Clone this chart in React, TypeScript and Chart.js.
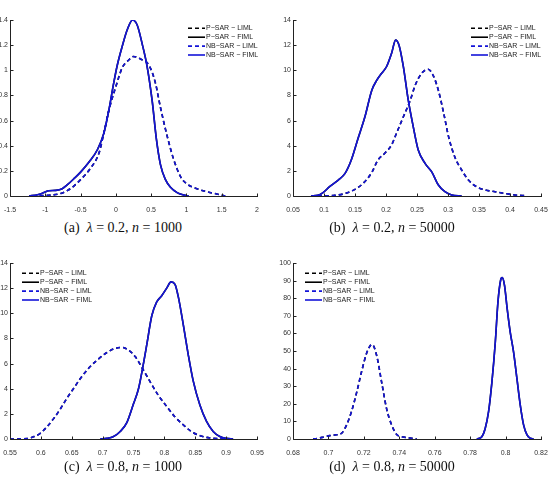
import React, { useEffect, useRef } from "react";
import { Chart, registerables } from "chart.js";

Chart.register(...registerables);

// ---------- Panel (a): lambda = 0.2, n = 1000 ----------
const aLimlX = [-1.18, -0.97, -0.78, -0.64, -0.5, -0.36, -0.24, -0.17, -0.1, 0, 0.09, 0.18, 0.25, 0.35, 0.47, 0.56, 0.63, 0.73, 0.82, 0.92, 1.01, 1.15, 1.29, 1.43, 1.55];
const aLimlY = [0, 0.005, 0.02, 0.06, 0.13, 0.22, 0.34, 0.5, 0.68, 0.87, 1.02, 1.08, 1.11, 1.09, 1.04, 0.9, 0.71, 0.47, 0.29, 0.15, 0.095, 0.058, 0.034, 0.016, 0];
const aFimlX = [-1.23, -1.11, -1.02, -0.95, -0.85, -0.76, -0.69, -0.59, -0.5, -0.38, -0.26, -0.17, -0.1, -0.03, 0.02, 0.09, 0.16, 0.236, 0.302, 0.373, 0.443, 0.514, 0.575, 0.632, 0.703, 0.774, 0.868, 0.962, 1.033];
const aFimlY = [0, 0.01, 0.027, 0.042, 0.045, 0.058, 0.088, 0.14, 0.19, 0.27, 0.37, 0.5, 0.68, 0.9, 1.04, 1.19, 1.32, 1.4, 1.36, 1.21, 1.03, 0.76, 0.45, 0.25, 0.13, 0.069, 0.027, 0.008, 0];
const aXTicks = [-1.5, -1, -0.5, 0, 0.5, 1, 1.5, 2];
const aYTicks = [0, 0.2, 0.4, 0.6, 0.8, 1, 1.2, 1.4];

// ---------- Panel (b): lambda = 0.2, n = 50000 ----------
const bLimlX = [0.09, 0.117, 0.134, 0.15, 0.163, 0.177, 0.187, 0.198, 0.209, 0.217, 0.228, 0.239, 0.247, 0.2575, 0.268, 0.276, 0.2845, 0.293, 0.301, 0.311, 0.322, 0.333, 0.346, 0.36, 0.376, 0.392, 0.408, 0.425];
const bLimlY = [0, 0.05, 0.2, 0.53, 1.0, 1.86, 2.86, 3.4, 4.06, 5.0, 6.3, 7.6, 8.8, 9.76, 10.08, 9.6, 8.4, 6.6, 4.7, 3.1, 2.07, 1.27, 0.74, 0.48, 0.34, 0.2, 0.08, 0.03];
const bFimlX = [0.079, 0.09, 0.0985, 0.109, 0.123, 0.134, 0.144, 0.155, 0.166, 0.177, 0.185, 0.193, 0.201, 0.209, 0.2155, 0.221, 0.228, 0.236, 0.244, 0.252, 0.263, 0.274, 0.2845, 0.295, 0.306, 0.322];
const bFimlY = [0, 0.05, 0.27, 0.74, 1.27, 1.8, 2.86, 4.59, 6.3, 8.4, 9.2, 9.76, 10.3, 11.35, 12.4, 12.0, 10.3, 7.6, 5.5, 3.66, 2.6, 1.9, 0.87, 0.34, 0.08, 0];
const bXTicks = [0.05, 0.1, 0.15, 0.2, 0.25, 0.3, 0.35, 0.4, 0.45];
const bYTicks = [0, 2, 4, 6, 8, 10, 12, 14];

// ---------- Panel (c): lambda = 0.8, n = 1000 ----------
const cLimlX = [0.55, 0.578, 0.589, 0.599, 0.61, 0.621, 0.632, 0.642, 0.653, 0.664, 0.677, 0.691, 0.707, 0.72, 0.731, 0.742, 0.753, 0.763, 0.777, 0.79, 0.804, 0.817, 0.831, 0.844, 0.858, 0.874, 0.89, 0.9];
const cLimlY = [0, 0.03, 0.19, 0.45, 0.98, 1.64, 2.43, 3.23, 4.02, 4.82, 5.61, 6.27, 6.88, 7.2, 7.28, 7.07, 6.54, 5.74, 4.55, 3.49, 2.57, 1.77, 1.11, 0.58, 0.26, 0.08, 0.03, 0];
const cFimlX = [0.6962, 0.707, 0.7177, 0.7285, 0.7392, 0.75, 0.7581, 0.765, 0.7715, 0.7796, 0.7876, 0.7957, 0.8038, 0.8108, 0.8172, 0.8226, 0.8306, 0.8387, 0.8468, 0.8575, 0.8683, 0.879, 0.8898, 0.9005, 0.9113];
const cFimlY = [0, 0.05, 0.2, 0.6, 1.3, 2.8, 4.0, 5.7, 7.5, 9.8, 10.9, 11.4, 12.0, 12.5, 12.3, 11.3, 9.1, 6.7, 4.6, 2.7, 1.4, 0.6, 0.2, 0.05, 0];
const cXTicks = [0.55, 0.6, 0.65, 0.7, 0.75, 0.8, 0.85, 0.9, 0.95];
const cYTicks = [0, 2, 4, 6, 8, 10, 12, 14];

// ---------- Panel (d): lambda = 0.8, n = 50000 ----------
const dLimlX = [0.6913, 0.6942, 0.698, 0.7008, 0.7036, 0.7074, 0.7102, 0.713, 0.7158, 0.7187, 0.7215, 0.7234, 0.7247, 0.7272, 0.73, 0.7328, 0.7357, 0.7385, 0.7413, 0.7442, 0.7489, 0.7498];
const dLimlY = [0, 0.4, 1.3, 1.9, 2.3, 3.2, 7.9, 15.5, 25.9, 38.2, 48.6, 52.7, 53.7, 47.6, 32.5, 17.4, 7.9, 2.6, 1.3, 0.8, 0.2, 0];
const dFimlX = [0.7838, 0.7866, 0.7885, 0.7904, 0.7923, 0.7942, 0.7957, 0.7972, 0.7981, 0.7994, 0.8009, 0.8026, 0.8045, 0.8064, 0.8083, 0.8102, 0.8121, 0.814, 0.8158];
const dFimlY = [0, 1.3, 6, 15.5, 32.5, 55, 77.9, 90.2, 91.7, 87.3, 74.1, 60.9, 49.5, 34.4, 19.3, 7.9, 2.3, 0.4, 0];
const dXTicks = [0.68, 0.7, 0.72, 0.74, 0.76, 0.78, 0.8, 0.82];
const dYTicks = [0, 10, 20, 30, 40, 50, 60, 70, 80, 90, 100];

const seriesLabels = ["P\u2212SAR \u2212 LIML", "P\u2212SAR \u2212 FIML", "NB\u2212SAR \u2212 LIML", "NB\u2212SAR \u2212 FIML"];

const SANS = '"Liberation Sans", Arial, Helvetica, sans-serif';
const PT = 20;
const PR = 10;
const XB = 20;
const BLUE = "#1414d8";
const AXIS = "#222";
const LABEL = "#333";

type Spec = {
  limlX: number[]; limlY: number[]; fimlX: number[]; fimlY: number[];
  xTicks: number[]; yTicks: number[];
  box: { left: number; top: number; width: number; height: number };
  legend: { x1: number; x2: number; y: number };
};

const specs: Spec[] = [
  { limlX: aLimlX, limlY: aLimlY, fimlX: aFimlX, fimlY: aFimlY, xTicks: aXTicks, yTicks: aYTicks,
    box: { left: 10, top: 20, width: 247, height: 176 }, legend: { x1: 188, x2: 205, y: 28.3 } },
  { limlX: bLimlX, limlY: bLimlY, fimlX: bFimlX, fimlY: bFimlY, xTicks: bXTicks, yTicks: bYTicks,
    box: { left: 293, top: 20, width: 248, height: 176 }, legend: { x1: 471, x2: 488, y: 28.3 } },
  { limlX: cLimlX, limlY: cLimlY, fimlX: cFimlX, fimlY: cFimlY, xTicks: cXTicks, yTicks: cYTicks,
    box: { left: 10, top: 263, width: 247, height: 176 }, legend: { x1: 22, x2: 39, y: 273.3 } },
  { limlX: dLimlX, limlY: dLimlY, fimlX: dFimlX, fimlY: dFimlY, xTicks: dXTicks, yTicks: dYTicks,
    box: { left: 293, top: 263, width: 248, height: 176 }, legend: { x1: 305, x2: 322, y: 273.3 } },
];

const fmt = (v: number) => String(Math.round(v * 10000) / 10000);

function Panel({ spec }: { spec: Spec }) {
  const ref = useRef<HTMLCanvasElement>(null);
  const { left: L, top: T, width: W, height: H } = spec.box;
  const ox = Math.max(0, L - 30);
  const YW = L - ox;
  const oy = T - PT;
  const cw = W + YW + PR;
  const ch = H + PT + XB;

  useEffect(() => {
    if (!ref.current) return;
    const pts = (xs: number[], ys: number[]) => xs.map((x, i) => ({ x, y: ys[i] }));
    const styles = [
      { color: "#000000", dash: [4, 3] },
      { color: "#000000", dash: [] as number[] },
      { color: BLUE, dash: [4, 3] },
      { color: BLUE, dash: [] as number[] },
    ];
    const series = [
      [spec.limlX, spec.limlY],
      [spec.fimlX, spec.fimlY],
      [spec.limlX, spec.limlY],
      [spec.fimlX, spec.fimlY],
    ];
    const datasets = series.map((s, i) => ({
      label: seriesLabels[i],
      data: pts(s[0], s[1]),
      borderColor: styles[i].color,
      borderDash: styles[i].dash,
      borderWidth: 1.6,
      pointRadius: 0,
      fill: false,
      cubicInterpolationMode: "monotone" as const,
      order: i < 2 ? 2 : 1,
    }));

    const overlay = {
      id: "matlabAxes",
      afterDraw(chart: any) {
        const ctx = chart.ctx as CanvasRenderingContext2D;
        const a = chart.chartArea;
        const xs = chart.scales.x;
        const ys = chart.scales.y;
        const left = Math.round(a.left) + 0.5;
        const bottom = Math.round(a.bottom) + 0.5;
        ctx.save();
        ctx.strokeStyle = AXIS;
        ctx.lineWidth = 1;
        ctx.beginPath();
        // axis lines
        ctx.moveTo(left, Math.round(a.top));
        ctx.lineTo(left, bottom);
        ctx.lineTo(Math.round(a.right) + 1, bottom);
        // inward tick marks
        spec.xTicks.forEach((v) => {
          const px = Math.round(xs.getPixelForValue(v)) + 0.5;
          ctx.moveTo(px, bottom);
          ctx.lineTo(px, bottom - 3);
        });
        spec.yTicks.forEach((v) => {
          const py = Math.round(ys.getPixelForValue(v)) + 0.5;
          ctx.moveTo(left, py);
          ctx.lineTo(left + 3, py);
        });
        ctx.stroke();

        // y tick labels
        ctx.font = `7px ${SANS}`;
        ctx.fillStyle = LABEL;
        ctx.textAlign = "right";
        ctx.textBaseline = "middle";
        spec.yTicks.forEach((v) => {
          ctx.fillText(fmt(v), a.left - 2, ys.getPixelForValue(v));
        });

        // legend
        const lg = spec.legend;
        ctx.textAlign = "left";
        datasets.forEach((d, i) => {
          const y = lg.y + i * 8.9 - oy;
          ctx.strokeStyle = d.borderColor;
          ctx.lineWidth = 1.6;
          ctx.setLineDash(d.borderDash);
          ctx.beginPath();
          ctx.moveTo(lg.x1 - ox, y);
          ctx.lineTo(lg.x2 - ox, y);
          ctx.stroke();
          ctx.setLineDash([]);
          ctx.fillStyle = "#222";
          ctx.fillText(d.label, lg.x2 + 1 - ox, y);
        });
        ctx.restore();
      },
    };

    const chart = new Chart(ref.current, {
      type: "line",
      data: { datasets: datasets as any },
      plugins: [overlay],
      options: {
        responsive: false,
        animation: false,
        layout: { padding: { top: PT, right: PR, left: 0, bottom: 0 } },
        plugins: { legend: { display: false }, tooltip: { enabled: false } },
        scales: {
          x: {
            type: "linear",
            min: spec.xTicks[0],
            max: spec.xTicks[spec.xTicks.length - 1],
            afterBuildTicks: (s: any) => { s.ticks = spec.xTicks.map((v) => ({ value: v })); },
            afterFit: (s: any) => { s.height = XB; s.paddingLeft = 0; s.paddingRight = 0; },
            grid: { display: false },
            border: { display: false },
            ticks: {
              font: { family: SANS, size: 7 },
              color: LABEL,
              autoSkip: false,
              maxRotation: 0,
              minRotation: 0,
              padding: 2,
              callback: (v: any) => fmt(Number(v)),
            },
          },
          y: {
            type: "linear",
            min: spec.yTicks[0],
            max: spec.yTicks[spec.yTicks.length - 1],
            afterBuildTicks: (s: any) => { s.ticks = spec.yTicks.map((v) => ({ value: v })); },
            afterFit: (s: any) => { s.width = YW; s.paddingTop = 0; s.paddingBottom = 0; },
            grid: { display: false },
            border: { display: false },
            ticks: { display: false },
          },
        },
      } as any,
    });
    return () => chart.destroy();
  }, [spec]);

  return (
    <canvas
      ref={ref}
      width={cw}
      height={ch}
      style={{ position: "absolute", left: ox, top: oy, width: cw, height: ch, display: "block" }}
    />
  );
}

const captions = [
  { tag: "(a)", lam: "0.2", n: "1000", cx: 123, cy: 228 },
  { tag: "(b)", lam: "0.2", n: "50000", cx: 392, cy: 228 },
  { tag: "(c)", lam: "0.8", n: "1000", cx: 123, cy: 467 },
  { tag: "(d)", lam: "0.8", n: "50000", cx: 392, cy: 467 },
];

function Caption({ c }: { c: (typeof captions)[number] }) {
  return (
    <div
      style={{
        position: "absolute",
        left: c.cx - 150,
        top: c.cy - 9,
        width: 300,
        textAlign: "center",
        fontFamily: '"Liberation Serif", "Times New Roman", serif',
        fontSize: 14,
        lineHeight: "18px",
        color: "#111",
        whiteSpace: "nowrap",
      }}
    >
      {c.tag}&nbsp;&nbsp;<i>λ</i>&nbsp;=&nbsp;{c.lam},&nbsp;<i>n</i>&nbsp;=&nbsp;{c.n}
    </div>
  );
}

export default function App() {
  return (
    <div
      style={{
        position: "fixed",
        left: 0,
        top: 0,
        width: 551,
        height: 486,
        overflow: "hidden",
        background: "#fff",
      }}
    >
      {specs.map((s, i) => (
        <Panel key={i} spec={s} />
      ))}
      {captions.map((c, i) => (
        <Caption key={i} c={c} />
      ))}
    </div>
  );
}
